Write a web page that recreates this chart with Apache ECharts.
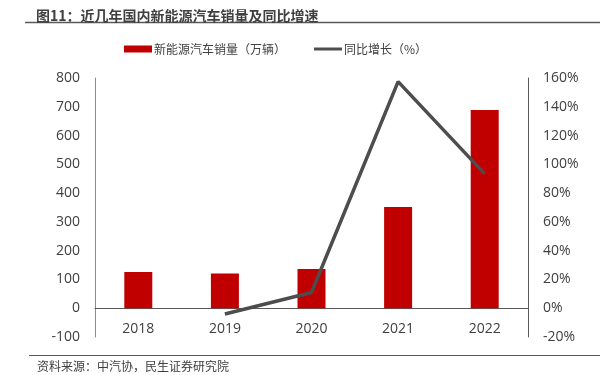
<!DOCTYPE html>
<html><head><meta charset="utf-8">
<script src="https://cdn.jsdelivr.net/npm/echarts@6/dist/echarts.min.js"></script>
<style>html,body{margin:0;padding:0;background:#fff}#c{width:610px;height:375px}</style>
</head><body><div id="c"></div>
<script>
const categories = ['2018', '2019', '2020', '2021', '2022'];
const sales = [125.6, 120.6, 136.7, 352.1, 688.7];
const growth = [null, -4.0, 10.9, 157.5, 93.4];
const salesName = '新能源汽车销量（万辆）';
const growthName = '同比增长（%）';
const titleText = '图11：近几年国内新能源汽车销量及同比增速';
const sourceText = '资料来源：中汽协，民生证券研究院';

const numFont = '"Open Sans", "Noto Sans CJK SC", sans-serif';
const cjkFont = '"Noto Sans CJK SC", sans-serif';
const chart = echarts.init(document.getElementById('c'), null, {renderer: 'canvas'});
chart.setOption({
  animation: false,
  title: {
    text: titleText, left: 31, top: 4,
    textStyle: {fontFamily: cjkFont, fontSize: 14, fontWeight: 'bold', color: '#404040'}
  },
  legend: {
    top: 38, left: 119, itemGap: 28, itemWidth: 28, itemHeight: 7,
    textStyle: {fontFamily: cjkFont, fontSize: 12, color: '#404040', padding: [0,0,0,-3]},
    data: [
      {name: salesName, icon: 'rect'},
      {name: growthName, icon: 'path://M0,0 L28,0 L28,3 L0,3 Z'}
    ]
  },
  grid: {left: 95, right: 82, top: 78, bottom: 38, containLabel: false},
  xAxis: {
    type: 'category', data: categories,
    axisLine: {onZero: true, lineStyle: {color: '#595959', width: 1}},
    axisTick: {show: false},
    axisLabel: {margin: -15, fontFamily: numFont, fontSize: 14, color: '#404040'}
  },
  yAxis: [
    {type: 'value', min: -100, max: 800, interval: 100,
     axisLine: {show: true, onZero: false, lineStyle: {color: '#8c8c8c'}},
     axisTick: {show: false}, splitLine: {show: false},
     axisLabel: {margin: 15, fontFamily: numFont, fontSize: 14, color: '#404040'}},
    {type: 'value', min: -20, max: 160, interval: 20,
     axisLine: {show: true, onZero: false, lineStyle: {color: '#595959'}},
     axisTick: {show: false}, splitLine: {show: false},
     axisLabel: {margin: 15, fontFamily: numFont, fontSize: 14, color: '#404040', formatter: '{value}%'}}
  ],
  series: [
    {name: salesName, type: 'bar', data: sales, barWidth: 28, yAxisIndex: 0,
     itemStyle: {color: '#c00000'}},
    {name: growthName, type: 'line', data: growth, yAxisIndex: 1, symbol: 'none',
     lineStyle: {color: '#4d4d4d', width: 3.5}, itemStyle: {color: '#4d4d4d'}, connectNulls: false}
  ],
  graphic: [
    {type: 'line', shape: {x1: 25, y1: 22.5, x2: 600, y2: 22.5}, style: {stroke: '#595959', lineWidth: 1.5}},
    {type: 'line', shape: {x1: 29, y1: 355.5, x2: 600, y2: 355.5}, style: {stroke: '#595959', lineWidth: 1.2}},
    {type: 'text', left: 37, top: 360, style: {text: sourceText, font: '12px "Noto Sans CJK SC", sans-serif', fill: '#404040'}}
  ]
});
</script></body></html>
